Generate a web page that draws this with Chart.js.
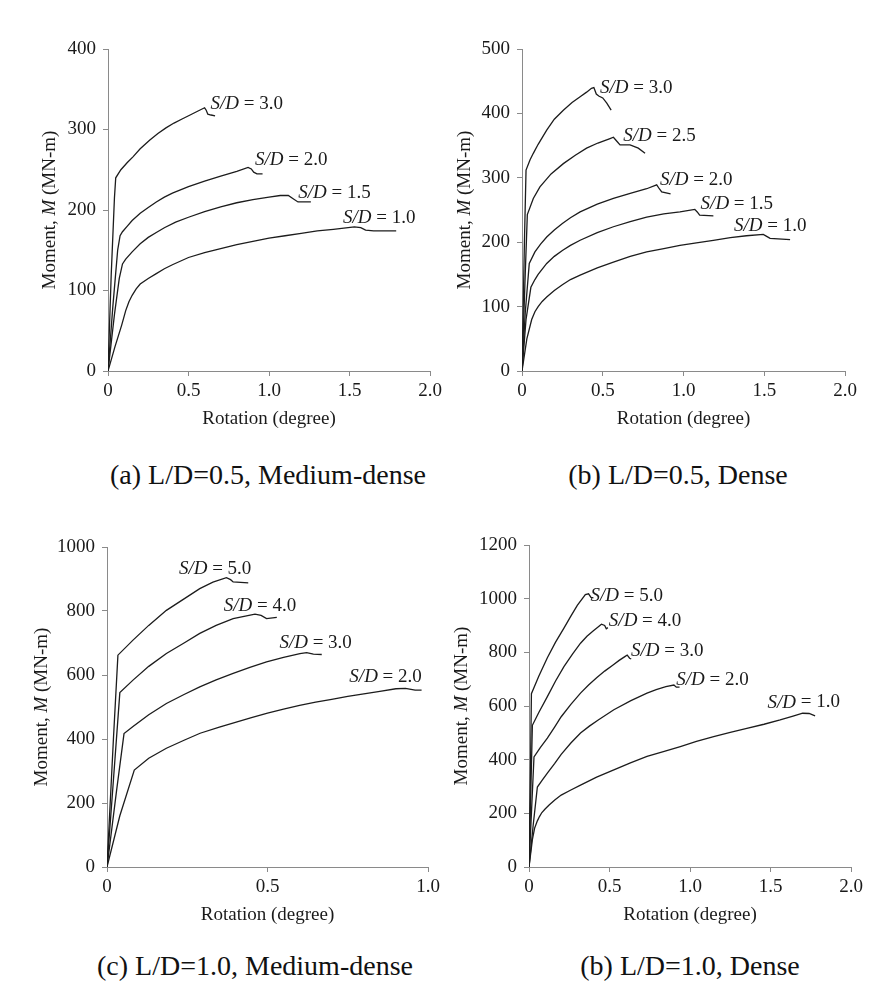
<!DOCTYPE html>
<html><head><meta charset="utf-8">
<script src="https://cdn.jsdelivr.net/npm/chart.js@4.4.1/dist/chart.umd.min.js"></script>
<style>
html,body{margin:0;padding:0;background:#fff;}
body{width:894px;height:993px;position:relative;overflow:hidden;}
canvas{position:absolute;}
.cap{position:absolute;font-family:'Liberation Serif','Times New Roman',serif;font-size:28px;color:#111;white-space:nowrap;transform:translate(-50%,-50%);}
</style></head><body>
<canvas id="ca" style="left:0px;top:29px" width="447" height="421"></canvas>
<canvas id="cb" style="left:447px;top:29px" width="447" height="421"></canvas>
<canvas id="cc" style="left:0px;top:527px" width="447" height="419"></canvas>
<canvas id="cd" style="left:447px;top:525px" width="447" height="421"></canvas>
<div class="cap" style="left:268px;top:475px">(a) L/D=0.5, Medium-dense</div>
<div class="cap" style="left:678px;top:475px">(b) L/D=0.5, Dense</div>
<div class="cap" style="left:255px;top:966px">(c) L/D=1.0, Medium-dense</div>
<div class="cap" style="left:690px;top:966px">(b) L/D=1.0, Dense</div>
<script>
// ---------- data (rotation in degree, moment in MN-m) ----------
// Panel (a) L/D=0.5, Medium-dense
const aXTicks = ['0','0.5','1.0','1.5','2.0'];
const aYTicks = ['0','100','200','300','400'];
const a_SD30 = [[0,0],[0.02,120],[0.04,215],[0.048,240],[0.08,250],[0.12,259],[0.155,266],[0.2,276],[0.26,287],[0.31,295],[0.36,302],[0.41,308],[0.46,313],[0.51,318],[0.55,322],[0.6,327],[0.61,324],[0.62,319],[0.64,318],[0.665,317]];
const a_SD20 = [[0,0],[0.03,80],[0.06,150],[0.075,168],[0.09,173],[0.12,180],[0.15,187],[0.2,196],[0.25,203],[0.3,210],[0.35,216],[0.4,221],[0.5,229],[0.6,236],[0.7,242],[0.8,248],[0.87,253],[0.89,251],[0.905,247],[0.925,245],[0.96,245]];
const a_SD15 = [[0,0],[0.04,70],[0.07,115],[0.09,133],[0.11,139],[0.15,148],[0.2,158],[0.25,166],[0.3,172],[0.35,178],[0.42,185],[0.5,191],[0.6,198],[0.7,204],[0.8,209],[0.9,213],[1.0,216],[1.07,218],[1.12,218],[1.15,214],[1.18,210],[1.26,210]];
const a_SD10 = [[0,0],[0.043,30],[0.085,57],[0.11,75],[0.13,86],[0.15,94],[0.175,102],[0.2,108],[0.25,115],[0.3,121],[0.35,127],[0.4,132],[0.5,141],[0.6,147],[0.7,152],[0.8,157],[0.9,161],[1.0,165],[1.1,168],[1.2,171],[1.3,174],[1.4,176],[1.53,179],[1.57,178],[1.6,175],[1.65,174],[1.79,174]];
const aLabelAt = [[0.637,332,'3.0'],[0.913,262,'2.0'],[1.182,221,'1.5'],[1.46,190,'1.0']];

// Panel (b) L/D=0.5, Dense
const bXTicks = ['0','0.5','1.0','1.5','2.0'];
const bYTicks = ['0','100','200','300','400','500'];
const b_SD30 = [[0,0],[0.015,200],[0.025,312],[0.05,328],[0.07,338],[0.1,352],[0.153,374],[0.2,391],[0.256,405],[0.31,417],[0.36,426],[0.4,433],[0.43,439],[0.445,440],[0.46,430],[0.475,427],[0.5,424],[0.525,416],[0.552,405]];
const b_SD25 = [[0,0],[0.02,150],[0.033,243],[0.07,268],[0.111,286],[0.18,306],[0.256,322],[0.33,335],[0.4,346],[0.47,354],[0.545,361],[0.566,363],[0.59,356],[0.607,351],[0.669,351],[0.72,346],[0.762,338]];
const b_SD20 = [[0,0],[0.02,90],[0.045,167],[0.08,185],[0.115,197],[0.153,208],[0.2,219],[0.25,229],[0.3,238],[0.36,247],[0.466,259],[0.566,268],[0.67,276],[0.772,283],[0.834,289],[0.85,283],[0.865,278],[0.92,275]];
const b_SD15 = [[0,0],[0.025,80],[0.055,130],[0.08,142],[0.1,150],[0.153,167],[0.2,178],[0.25,187],[0.3,195],[0.36,203],[0.466,215],[0.566,224],[0.67,232],[0.772,239],[0.878,244],[0.978,247],[1.07,251],[1.085,247],[1.1,242],[1.185,241]];
const b_SD10 = [[0,0],[0.03,50],[0.06,80],[0.08,92],[0.1,100],[0.125,108],[0.153,115],[0.2,125],[0.25,134],[0.3,142],[0.36,149],[0.466,160],[0.566,169],[0.67,178],[0.772,185],[0.878,190],[0.978,195],[1.08,199],[1.185,203],[1.29,207],[1.39,210],[1.494,212],[1.515,209],[1.536,206],[1.66,204]];
const bLabelAt = [[0.483,440,'3.0'],[0.627,365,'2.5'],[0.854,296,'2.0'],[1.106,259,'1.5'],[1.313,225,'1.0']];

// Panel (c) L/D=1.0, Medium-dense
const cXTicks = ['0','0.5','1.0'];
const cYTicks = ['0','200','400','600','800','1000'];
const c_SD50 = [[0,0],[0.02,400],[0.034,662],[0.081,709],[0.13,755],[0.185,802],[0.24,838],[0.289,870],[0.33,890],[0.372,904],[0.385,898],[0.393,891],[0.44,888]];
const c_SD40 = [[0,0],[0.025,340],[0.04,545],[0.081,584],[0.13,627],[0.185,667],[0.24,700],[0.289,730],[0.34,755],[0.393,776],[0.461,790],[0.48,786],[0.497,776],[0.529,780]];
const c_SD30 = [[0,0],[0.03,240],[0.053,417],[0.081,439],[0.13,476],[0.185,511],[0.24,539],[0.289,563],[0.34,585],[0.393,605],[0.445,624],[0.497,641],[0.55,655],[0.601,667],[0.622,670],[0.643,665],[0.669,664]];
const c_SD20 = [[0,0],[0.04,160],[0.085,303],[0.13,340],[0.185,371],[0.24,396],[0.29,418],[0.35,437],[0.4,452],[0.45,467],[0.5,481],[0.55,493],[0.6,505],[0.65,515],[0.7,524],[0.75,533],[0.8,541],[0.85,549],[0.9,557],[0.93,558],[0.96,553],[0.98,553]];
const cLabelAt = [[0.224,932,'5.0'],[0.364,815,'4.0'],[0.537,699,'3.0'],[0.755,595,'2.0']];

// Panel (d) L/D=1.0, Dense
const dXTicks = ['0','0.5','1.0','1.5','2.0'];
const dYTicks = ['0','200','400','600','800','1000','1200'];
const d_SD50 = [[0,0],[0.01,400],[0.015,646],[0.06,710],[0.114,780],[0.165,838],[0.217,890],[0.26,935],[0.3,975],[0.35,1015],[0.37,1018],[0.385,1005],[0.4,1003]];
const d_SD40 = [[0,0],[0.012,300],[0.021,528],[0.06,575],[0.114,635],[0.165,693],[0.217,747],[0.27,793],[0.32,834],[0.36,860],[0.4,880],[0.45,905],[0.47,900],[0.48,888],[0.49,892]];
const d_SD30 = [[0,0],[0.018,240],[0.031,410],[0.07,445],[0.114,480],[0.16,522],[0.2,560],[0.26,606],[0.32,648],[0.37,678],[0.42,705],[0.47,730],[0.52,752],[0.56,770],[0.6,786],[0.61,790],[0.625,778],[0.635,775]];
const d_SD20 = [[0,0],[0.025,150],[0.052,298],[0.08,322],[0.114,350],[0.16,386],[0.2,420],[0.26,462],[0.32,499],[0.375,525],[0.43,548],[0.527,586],[0.633,620],[0.733,648],[0.79,661],[0.85,672],[0.9,678],[0.915,670],[0.935,670]];
const d_SD10 = [[0,0],[0.021,102],[0.035,145],[0.052,172],[0.065,188],[0.08,203],[0.1,216],[0.125,231],[0.16,250],[0.2,268],[0.26,287],[0.32,305],[0.42,335],[0.527,362],[0.63,388],[0.733,412],[0.84,431],[0.94,449],[1.04,468],[1.147,486],[1.25,502],[1.353,517],[1.46,532],[1.56,548],[1.64,562],[1.7,573],[1.74,572],[1.777,563]];
const dLabelAt = [[0.382,1010,'5.0'],[0.496,918,'4.0'],[0.634,806,'3.0'],[0.915,697,'2.0'],[1.481,613,'1.0']];

// ---------- drawing ----------
const FONT = "'Liberation Serif','Times New Roman',serif";
const FS = 19;
const AXIS = '#8a8a8a';
const TXT = '#1a1a1a';

function labelPlugin(o) {
  return {
    id: 'sdText',
    afterDraw(chart) {
      const {ctx, chartArea} = chart;
      const xs = chart.scales.x, ys = chart.scales.y;
      ctx.save();
      ctx.fillStyle = TXT;
      ctx.textBaseline = 'middle';
      ctx.textAlign = 'left';
      for (const [lx, ly, t] of o.labels) {
        let px = xs.getPixelForValue(lx), py = ys.getPixelForValue(ly);
        ctx.font = 'italic ' + FS + 'px ' + FONT;
        ctx.fillText('S/D', px, py);
        px += ctx.measureText('S/D').width;
        ctx.font = FS + 'px ' + FONT;
        ctx.fillText(' = ' + t, px, py);
      }
      // y axis title with italic M
      const parts = [['Moment, ', ''], ['M', 'italic '], [' (MN-m)', '']];
      let total = 0;
      const w = parts.map(([s, st]) => { ctx.font = st + FS + 'px ' + FONT; const m = ctx.measureText(s).width; total += m; return m; });
      ctx.translate(o.yTitleX, (chartArea.top + chartArea.bottom) / 2);
      ctx.rotate(-Math.PI / 2);
      let cx = -total / 2;
      parts.forEach(([s, st], i) => { ctx.font = st + FS + 'px ' + FONT; ctx.fillText(s, cx, 0); cx += w[i]; });
      ctx.restore();
    }
  };
}

function build(id, o) {
  const font = {family: FONT, size: FS};
  new Chart(document.getElementById(id), {
    type: 'scatter',
    data: {
      datasets: o.series.map(s => ({
        data: s.map(p => ({x: p[0], y: p[1]})),
        showLine: true, borderColor: '#1c1c1c', borderWidth: 1.3,
        pointRadius: 0, fill: false, tension: 0
      }))
    },
    options: {
      responsive: false, animation: false, events: [],
      layout: {padding: {left: 0, top: 20, right: o.padRight, bottom: 0}},
      plugins: {legend: {display: false}, tooltip: {enabled: false}},
      scales: {
        x: {
          type: 'linear', min: 0, max: o.xMax,
          ticks: {stepSize: o.xStep, autoSkip: false, maxRotation: 0, font, color: TXT, padding: 4,
                  callback: (v, i) => o.xTicks[i]},
          grid: {drawOnChartArea: false, drawTicks: true, tickLength: 5, color: AXIS},
          border: {color: AXIS, width: 1},
          title: {display: true, text: 'Rotation (degree)', font, color: TXT, padding: {top: 0, bottom: 20}},
          afterFit: s => { s.height = 79; }
        },
        y: {
          type: 'linear', min: 0, max: o.yMax,
          ticks: {stepSize: o.yStep, autoSkip: false, font, color: TXT, padding: 7,
                  callback: (v, i) => o.yTicks[i]},
          grid: {drawOnChartArea: false, drawTicks: true, tickLength: 5, color: AXIS},
          border: {color: AXIS, width: 1},
          title: {display: false},
          afterFit: s => { s.width = o.yWidth; }
        }
      }
    },
    plugins: [labelPlugin(o)]
  });
}

build('ca', {series: [a_SD30, a_SD20, a_SD15, a_SD10], labels: aLabelAt, xTicks: aXTicks, yTicks: aYTicks,
  xMax: 2, xStep: 0.5, yMax: 400, yStep: 100, yWidth: 108, padRight: 17, yTitleX: 50});
build('cb', {series: [b_SD30, b_SD25, b_SD20, b_SD15, b_SD10], labels: bLabelAt, xTicks: bXTicks, yTicks: bYTicks,
  xMax: 2, xStep: 0.5, yMax: 500, yStep: 100, yWidth: 75, padRight: 49, yTitleX: 18});
build('cc', {series: [c_SD50, c_SD40, c_SD30, c_SD20], labels: cLabelAt, xTicks: cXTicks, yTicks: cYTicks,
  xMax: 1, xStep: 0.5, yMax: 1000, yStep: 200, yWidth: 107, padRight: 19, yTitleX: 42});
build('cd', {series: [d_SD50, d_SD40, d_SD30, d_SD20, d_SD10], labels: dLabelAt, xTicks: dXTicks, yTicks: dYTicks,
  xMax: 2, xStep: 0.5, yMax: 1200, yStep: 200, yWidth: 82, padRight: 43, yTitleX: 15});
</script>
</body></html>
